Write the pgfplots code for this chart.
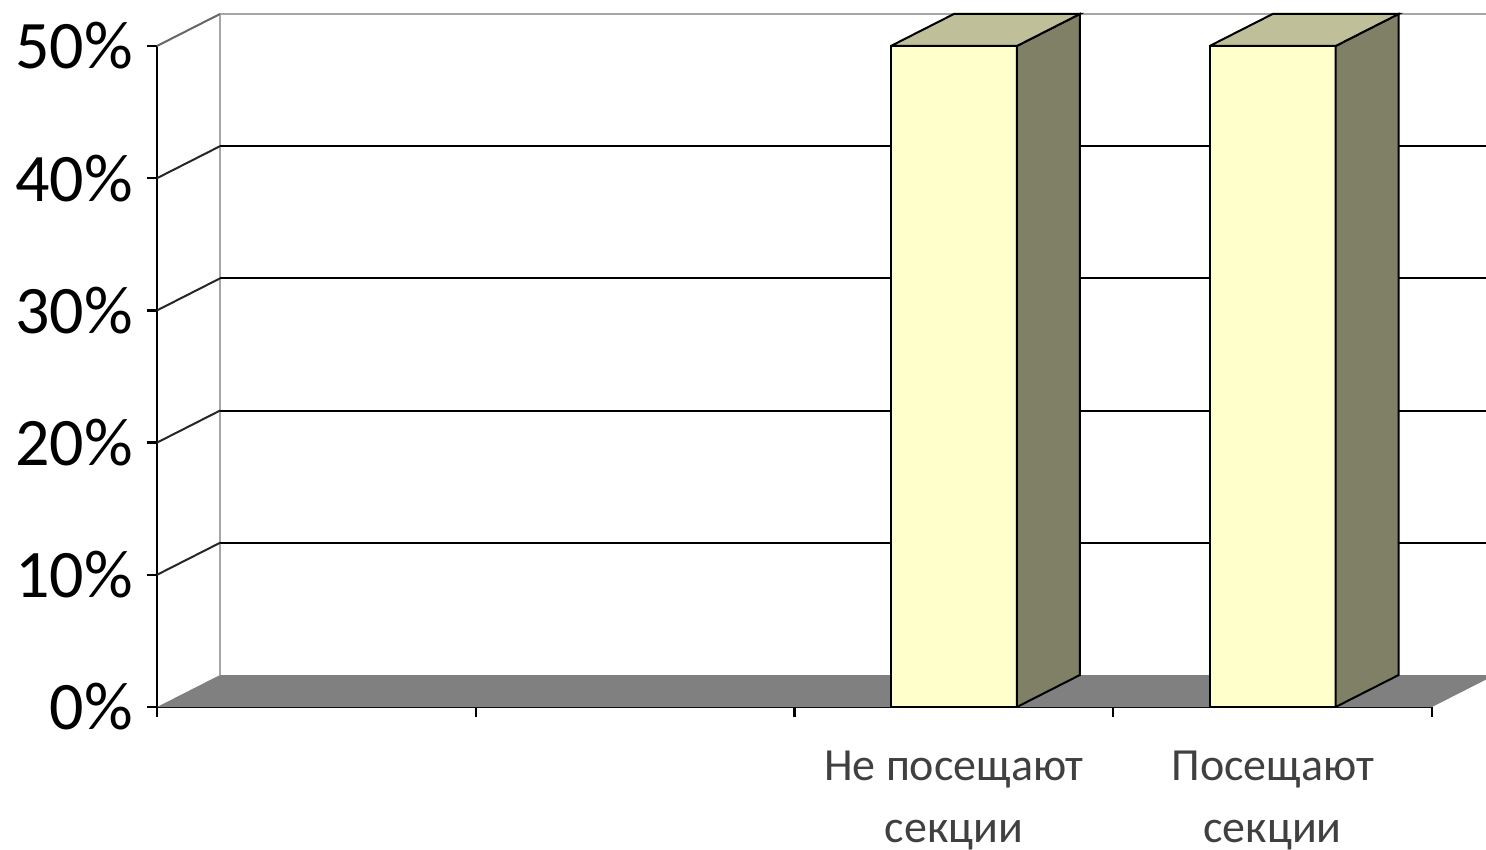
\documentclass[border=0pt]{standalone}
\usepackage{fontspec}
\setmainfont{Carlito}
\usepackage{pgfplots}
\pgfplotsset{compat=1.18}
\definecolor{barfront}{HTML}{FFFFCC}
\definecolor{barside}{HTML}{808066}
\definecolor{bartop}{HTML}{BFBF99}
\definecolor{floorc}{HTML}{808080}
\definecolor{wallline}{HTML}{A6A6A6}
\begin{document}
\begin{tikzpicture}
\begin{axis}[
  x=79.6875pt, y=3.305pt,
  xmin=0, xmax=4, ymin=0, ymax=50,
  clip=false,
  axis x line*=bottom, axis y line*=left,
  axis line style={line width=0.6pt, black},
  tick align=outside,
  major tick length=2.5pt,
  tick style={line width=0.6pt, black},
  xtick={0,1,2,3,4}, xticklabels={},
  extra x ticks={2.5,3.5},
  extra x tick labels={{Не посещают\\секции},{Посещают\\секции}},
  extra x tick style={tick style={draw=none}},
  ytick={0,10,20,30,40,50},
  yticklabel={\pgfmathprintnumber{\tick}\%},
  /pgf/number format/assume math mode=true,
  yticklabel style={font=\fontsize{17}{20}\selectfont, text=black},
  xticklabel style={font=\fontsize{11.5}{15.5}\selectfont, text=black!75, align=center, yshift=-5pt},
]
% floor
\fill[floorc] (axis cs:0,0) -- (axis cs:4,0) -- (axis cs:4.19765,2.4206) -- (axis cs:0.19765,2.4206) -- cycle;
% back wall
\draw[wallline, line width=0.5pt] (axis cs:0.19765,2.4206) -- (axis cs:0.19765,52.4206);
\draw[wallline, line width=0.5pt] (axis cs:0.19765,52.4206) -- (axis cs:4.19765,52.4206);
\draw[black, line width=0.5pt] (axis cs:0.19765,12.4206) -- (axis cs:4.19765,12.4206);
\draw[black, line width=0.5pt] (axis cs:0.19765,22.4206) -- (axis cs:4.19765,22.4206);
\draw[black, line width=0.5pt] (axis cs:0.19765,32.4206) -- (axis cs:4.19765,32.4206);
\draw[black, line width=0.5pt] (axis cs:0.19765,42.4206) -- (axis cs:4.19765,42.4206);
% side wall
\draw[black!85, line width=0.5pt] (axis cs:0,10) -- (axis cs:0.19765,12.4206);
\draw[black!85, line width=0.5pt] (axis cs:0,20) -- (axis cs:0.19765,22.4206);
\draw[black!85, line width=0.5pt] (axis cs:0,30) -- (axis cs:0.19765,32.4206);
\draw[black!85, line width=0.5pt] (axis cs:0,40) -- (axis cs:0.19765,42.4206);
\draw[black!60, line width=0.5pt] (axis cs:0,50) -- (axis cs:0.19765,52.4206);
% bars: front faces
\addplot[ybar, bar width=0.3953, fill=barfront, draw=black, line width=0.5pt] coordinates {(2.5,50) (3.5,50)};
% bars: side faces
\addplot[fill=barside, draw=black, line width=0.5pt] coordinates {(2.69765,0) (2.89530,2.4206) (2.89530,52.4206) (2.69765,50) (2.69765,0)};
\addplot[fill=barside, draw=black, line width=0.5pt] coordinates {(3.69765,0) (3.89530,2.4206) (3.89530,52.4206) (3.69765,50) (3.69765,0)};
% bars: top faces
\addplot[fill=bartop, draw=black, line width=0.5pt] coordinates {(2.30235,50) (2.69765,50) (2.89530,52.4206) (2.50000,52.4206) (2.30235,50)};
\addplot[fill=bartop, draw=black, line width=0.5pt] coordinates {(3.30235,50) (3.69765,50) (3.89530,52.4206) (3.50000,52.4206) (3.30235,50)};
\coordinate (bbSW) at (axis cs:-0.4925,-10.741);
\coordinate (bbNE) at (axis cs:4.1694,53.48);
\end{axis}
\pgfresetboundingbox
\path (bbSW) rectangle (bbNE);
\end{tikzpicture}
\end{document}
